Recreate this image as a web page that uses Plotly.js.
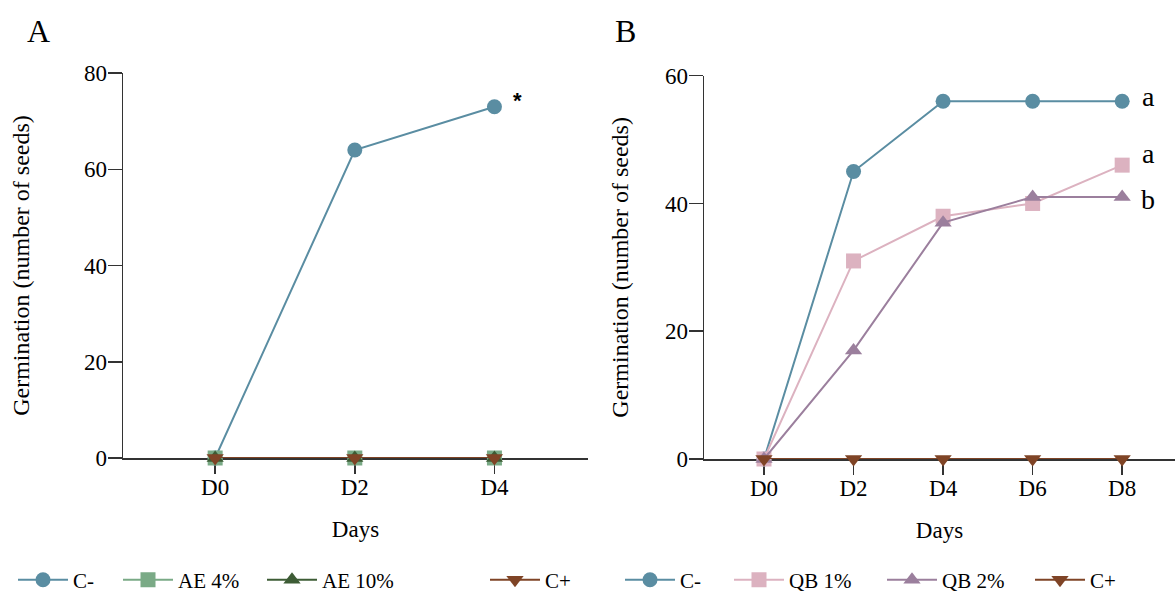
<!DOCTYPE html>
<html>
<head>
<meta charset="utf-8">
<script src="https://cdn.plot.ly/plotly-3.0.1.min.js"></script>
<style>html,body{margin:0;padding:0;background:#fff;}#chart{width:1175px;height:595px;}</style>
</head>
<body>
<div id="chart"></div>
<script>
// Panel A data
const daysA = ['D0', 'D2', 'D4'];
const aCminus = [0, 64, 73];
const aAE4 = [0, 0, 0];
const aAE10 = [0, 0, 0];
const aCplus = [0, 0, 0];
// Panel B data
const daysB = ['D0', 'D2', 'D4', 'D6', 'D8'];
const bCminus = [0, 45, 56, 56, 56];
const bQB1 = [0, 31, 38, 40, 46];
const bQB2 = [0, 17, 37, 41, 41];
const bCplus = [0, 0, 0, 0, 0];
// Labels
const namesA = ['C-', 'AE 4%', 'AE 10%', 'C+'];
const namesB = ['C-', 'QB 1%', 'QB 2%', 'C+'];
const letterB = ['a', 'a', 'b'];

const FONT = 'Liberation Serif';
const cBlue = '#5a8da2', cGreen = '#7aaa86', cDark = '#3d5c35', cBrown = '#7f4426', cPink = '#dcb2c0', cPurple = '#9b7f9d';

function tr(x, y, name, color, symbol, xa, ya, leg) {
  return {
    x: x, y: y, name: name, type: 'scatter', mode: 'lines+markers',
    xaxis: xa, yaxis: ya, legend: leg, cliponaxis: false, showlegend: true,
    line: {color: color, width: 2},
    marker: {color: color, symbol: symbol, size: 15, line: {width: 0}}
  };
}

const data = [
  tr(daysA, aCminus, namesA[0], cBlue, 'circle', 'x', 'y', 'legend'),
  tr(daysA, aAE4, namesA[1], cGreen, 'square', 'x', 'y', 'legend2'),
  tr(daysA, aAE10, namesA[2], cDark, 'triangle-up', 'x', 'y', 'legend3'),
  tr(daysA, aCplus, namesA[3], cBrown, 'triangle-down', 'x', 'y', 'legend4'),
  tr(daysB, bCminus, namesB[0], cBlue, 'circle', 'x2', 'y2', 'legend5'),
  tr(daysB, bQB1, namesB[1], cPink, 'square', 'x2', 'y2', 'legend6'),
  tr(daysB, bQB2, namesB[2], cPurple, 'triangle-up', 'x2', 'y2', 'legend7'),
  tr(daysB, bCplus, namesB[3], cBrown, 'triangle-down', 'x2', 'y2', 'legend8')
];

function xax(domain, range) {
  return {
    domain: domain, range: range, type: 'category', showgrid: false, zeroline: false,
    showline: true, linecolor: '#333', linewidth: 1.5, layer: 'below traces',
    ticks: 'outside', ticklen: 14, tickwidth: 1.5, tickcolor: '#333',
    ticklabelstandoff: -6,
    tickfont: {family: FONT, size: 23, color: '#000'},
    title: {text: 'Days', font: {family: FONT, size: 23, color: '#000'}, standoff: 22},
    fixedrange: true
  };
}
function yax(domain, range, dtick, anchor, standoff) {
  return {
    domain: domain, range: range, dtick: dtick, anchor: anchor, showgrid: false, zeroline: false,
    showline: true, linecolor: '#333', linewidth: 1.5, layer: 'below traces',
    ticks: 'outside', ticklen: 14, tickwidth: 1.5, tickcolor: '#333',
    ticklabelstandoff: -4,
    tickfont: {family: FONT, size: 23, color: '#000'},
    title: {text: 'Germination (number of seeds)', font: {family: FONT, size: 24, color: '#000'}, standoff: standoff},
    fixedrange: true
  };
}

function leg(xpx) {
  return {x: xpx / 1175, y: 0.025, xanchor: 'left', yanchor: 'middle', orientation: 'h',
    itemwidth: 50,
    font: {family: FONT, size: 21, color: '#000'}, bgcolor: 'rgba(0,0,0,0)', borderwidth: 0};
}

const layout = {
  width: 1175, height: 595,
  margin: {l: 0, r: 0, t: 0, b: 0, autoexpand: false},
  showlegend: true,
  paper_bgcolor: '#fff', plot_bgcolor: '#fff',
  font: {family: FONT, size: 20, color: '#000'},
  xaxis: Object.assign(xax([123 / 1175, 588 / 1175], [-0.66, 2.67]), {anchor: 'y'}),
  yaxis: yax([1 - 458 / 595, 1 - 73 / 595], [0, 80], 20, 'x', 47),
  xaxis2: Object.assign(xax([704 / 1175, 1], [-0.67, 4.59]), {anchor: 'y2'}),
  yaxis2: yax([1 - 459 / 595, 1 - 75.7 / 595], [0, 60], 20, 'x2', 29),
  legend: leg(13), legend2: leg(118), legend3: leg(262), legend4: leg(485),
  legend5: leg(620), legend6: leg(729), legend7: leg(882), legend8: leg(1030),
  annotations: [
    {text: 'A', xref: 'paper', yref: 'paper', x: 38 / 1175, y: 1 - 31 / 595, xanchor: 'center', yanchor: 'middle', showarrow: false, font: {family: FONT, size: 32, color: '#000'}},
    {text: 'B', xref: 'paper', yref: 'paper', x: 625 / 1175, y: 1 - 31 / 595, xanchor: 'center', yanchor: 'middle', showarrow: false, font: {family: FONT, size: 32, color: '#000'}},
    {text: '<b>*</b>', xref: 'x', yref: 'y', x: daysA[2], y: aCminus[2], xshift: 23, yshift: 6, xanchor: 'center', yanchor: 'middle', showarrow: false, font: {family: 'Liberation Sans', size: 22, color: '#000'}},
    {text: letterB[0], xref: 'x2', yref: 'y2', x: daysB[4], y: bCminus[4], xshift: 26, yshift: 5, xanchor: 'center', yanchor: 'middle', showarrow: false, font: {family: FONT, size: 28, color: '#000'}},
    {text: letterB[1], xref: 'x2', yref: 'y2', x: daysB[4], y: bQB1[4], xshift: 26, yshift: 12, xanchor: 'center', yanchor: 'middle', showarrow: false, font: {family: FONT, size: 28, color: '#000'}},
    {text: letterB[2], xref: 'x2', yref: 'y2', x: daysB[4], y: bQB2[4], xshift: 26, yshift: -2, xanchor: 'center', yanchor: 'middle', showarrow: false, font: {family: FONT, size: 28, color: '#000'}}
  ]
};

Plotly.newPlot('chart', data, layout, {displayModeBar: false, staticPlot: true});
</script>
</body>
</html>
